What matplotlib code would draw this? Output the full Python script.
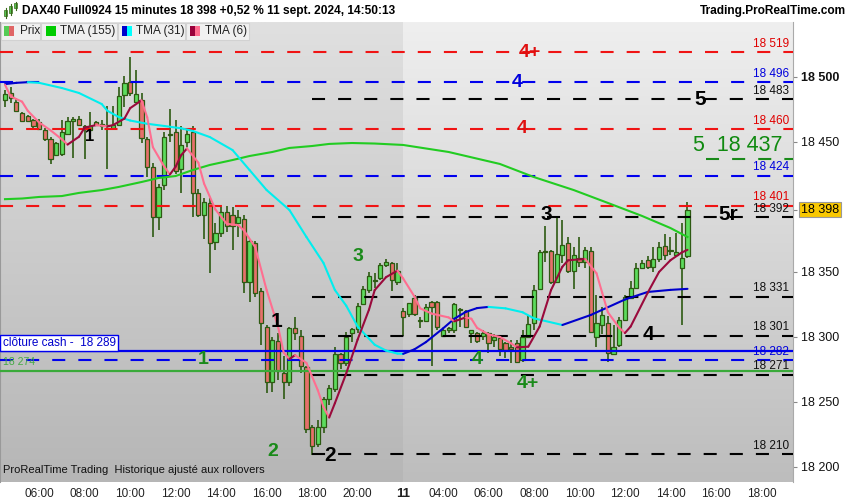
import numpy as np
import pandas as pd
import matplotlib
matplotlib.use('Agg')
import matplotlib.pyplot as plt
import matplotlib.transforms as mtransforms
from matplotlib.collections import LineCollection
from matplotlib.colors import LinearSegmentedColormap
from matplotlib.patches import Rectangle

plt.rcParams['font.family'] = ['Liberation Sans', 'DejaVu Sans']
plt.rcParams['lines.scale_dashes'] = False

# Bougies 15 minutes : 10 sept. 04:30 -> 21:45 puis 11 sept. 02:15 -> 14:45
heures_j1 = pd.date_range('2024-09-10 04:30', '2024-09-10 21:45', freq='15min')
heures_j2 = pd.date_range('2024-09-11 02:15', '2024-09-11 14:45', freq='15min')
heures = heures_j1.append(heures_j2)

ouv = [18482, 18488, 18481, 18472, 18470, 18467, 18465, 18459, 18452, 18440,
       18441, 18456, 18466, 18468, 18462, 18459, 18465, 18462, 18463, 18461,
       18463, 18486, 18496, 18481, 18482, 18452, 18431, 18392, 18417, 18456,
       18458, 18429, 18450, 18458, 18411, 18394, 18403, 18373, 18380, 18396,
       18394, 18388, 18391, 18342, 18372, 18335, 18308, 18265, 18297, 18272,
       18265, 18307, 18301, 18277, 18231, 18218, 18231, 18252, 18260, 18287,
       18280, 18303, 18306, 18325, 18336, 18343, 18345, 18355, 18357, 18342,
       18320, 18318, 18330, 18312, 18312, 18327, 18327, 18301, 18305, 18305,
       18321, 18320, 18303, 18303, 18301, 18303, 18298, 18299, 18295, 18292,
       18295, 18282, 18300, 18311, 18337, 18366, 18366, 18342, 18363, 18372,
       18351, 18361, 18358, 18366, 18300, 18309, 18311, 18287, 18294, 18313,
       18330, 18338, 18353, 18359, 18354, 18360, 18370, 18366, 18363, 18353,
       18362]
haut = [18490, 18492, 18484, 18473, 18471, 18468, 18468, 18461, 18454, 18450,
        18467, 18469, 18469, 18470, 18463, 18473, 18466, 18467, 18478, 18478,
        18492, 18501, 18515, 18505, 18488, 18454, 18434, 18418, 18458, 18475,
        18467, 18462, 18461, 18462, 18414, 18407, 18407, 18388, 18400, 18401,
        18400, 18398, 18394, 18375, 18374, 18338, 18309, 18300, 18303, 18285,
        18308, 18315, 18305, 18278, 18232, 18236, 18254, 18263, 18292, 18288,
        18304, 18307, 18326, 18339, 18350, 18349, 18357, 18360, 18358, 18357,
        18322, 18326, 18332, 18315, 18325, 18328, 18328, 18307, 18308, 18326,
        18322, 18321, 18305, 18304, 18305, 18304, 18302, 18300, 18296, 18298,
        18298, 18305, 18317, 18340, 18367, 18385, 18367, 18392, 18390, 18377,
        18369, 18377, 18369, 18369, 18332, 18323, 18316, 18309, 18315, 18332,
        18343, 18357, 18359, 18362, 18369, 18373, 18379, 18377, 18380, 18388,
        18404]
bas = [18477, 18480, 18473, 18465, 18465, 18461, 18459, 18451, 18433, 18439,
       18439, 18455, 18438, 18462, 18437, 18451, 18462, 18459, 18429, 18459,
       18462, 18477, 18485, 18480, 18449, 18423, 18377, 18382, 18413, 18450,
       18425, 18411, 18446, 18392, 18392, 18375, 18349, 18367, 18377, 18381,
       18367, 18377, 18334, 18327, 18331, 18294, 18257, 18258, 18267, 18252,
       18262, 18298, 18272, 18226, 18209, 18215, 18226, 18248, 18258, 18275,
       18278, 18296, 18303, 18325, 18334, 18338, 18344, 18354, 18335, 18340,
       18301, 18315, 18316, 18307, 18312, 18278, 18305, 18300, 18303, 18303,
       18308, 18307, 18295, 18295, 18298, 18288, 18292, 18285, 18284, 18280,
       18280, 18281, 18299, 18305, 18336, 18358, 18341, 18342, 18357, 18349,
       18337, 18354, 18353, 18303, 18292, 18302, 18281, 18286, 18292, 18312,
       18329, 18337, 18352, 18352, 18350, 18358, 18359, 18363, 18362, 18309,
       18361]
clot = [18487, 18484, 18474, 18466, 18466, 18462, 18460, 18452, 18437, 18449,
        18458, 18466, 18468, 18463, 18460, 18462, 18463, 18464, 18462, 18463,
        18485, 18495, 18488, 18487, 18453, 18431, 18392, 18415, 18454, 18455,
        18428, 18448, 18456, 18411, 18394, 18404, 18372, 18380, 18396, 18385,
        18385, 18392, 18342, 18374, 18334, 18311, 18265, 18298, 18274, 18265,
        18307, 18303, 18278, 18229, 18216, 18231, 18252, 18261, 18287, 18280,
        18300, 18306, 18324, 18337, 18347, 18343, 18355, 18358, 18344, 18351,
        18315, 18326, 18318, 18313, 18323, 18323, 18308, 18305, 18307, 18325,
        18321, 18308, 18305, 18297, 18303, 18295, 18300, 18291, 18290, 18291,
        18281, 18300, 18310, 18336, 18365, 18365, 18342, 18364, 18371, 18351,
        18363, 18358, 18367, 18304, 18311, 18317, 18288, 18292, 18313, 18331,
        18338, 18353, 18357, 18354, 18360, 18369, 18363, 18366, 18365, 18361,
        18398]

# Moyennes triangulaires (indice de bougie, valeur)
tma155_idx = [0, 3, 6, 10, 13, 17, 20, 24, 27, 30, 33, 36, 40, 43, 47, 50, 54, 57,
              61, 65, 70, 78, 87, 93, 100, 106, 112, 117, 120]
tma155_val = [18406, 18406.5, 18407.7, 18408.4, 18410.8, 18413, 18415.4, 18419.2,
              18422.3, 18423.8, 18428.4, 18432.3, 18436.1, 18439.2, 18442.3, 18445.4,
              18446.9, 18448.5, 18449.2, 18448.8, 18447.7, 18442.3, 18433.1, 18423,
              18413, 18403.1, 18393.1, 18383.8, 18376.9]

tma31_idx = [0, 2, 4, 6, 10, 13, 17, 18, 20, 22, 25, 28, 31, 33, 36, 40, 43, 46,
             50, 53, 56, 58, 60, 62, 65, 67, 69, 70, 72, 74, 77, 79, 81, 83, 85,
             88, 91, 93, 98, 103, 109, 113, 117, 120]
tma31_val = [18494.5, 18495.5, 18496, 18495.5, 18491.5, 18487.7, 18479.2, 18474,
             18469.2, 18466.5, 18464, 18462.3, 18460.5, 18458.5, 18453.8, 18443.8,
             18428.4, 18413, 18397.7, 18376.9, 18356.9, 18336.1, 18324, 18308,
             18294, 18289.5, 18287.2, 18287, 18290.5, 18296, 18306.5, 18314,
             18319.2, 18322.2, 18323.1, 18322, 18319, 18314.3, 18309.2, 18316.9,
             18328.8, 18334.6, 18336.2, 18337]

tma6_idx = [0, 1, 3, 4, 6, 8, 10, 11, 13, 14, 16, 18, 19, 21, 22, 24, 25, 26, 28,
            29, 30, 31, 32, 34, 35, 37, 39, 41, 42, 44, 46, 48, 49, 50, 51, 53, 55,
            56, 57, 58, 60, 62, 64, 65, 67, 69, 70, 72, 73, 75, 78, 79, 81, 82, 83,
            85, 87, 89, 90, 92, 94, 96, 98, 99, 102, 104, 105, 106, 108, 109, 110,
            113, 115, 117, 119, 120]
tma6_val = [18494, 18485, 18481, 18474, 18465, 18459, 18452, 18448, 18454, 18461,
            18463, 18462, 18463, 18468, 18476, 18482, 18469, 18446, 18431, 18425,
            18431, 18440, 18445, 18434, 18418, 18398, 18387, 18386, 18382, 18369,
            18336, 18308, 18288, 18283, 18286, 18280, 18259, 18246, 18238, 18249,
            18272, 18298, 18321, 18336, 18346, 18351, 18345, 18331, 18322, 18318,
            18315, 18312, 18315, 18314, 18307, 18302, 18300, 18295, 18292, 18292.5,
            18308, 18336, 18354, 18359, 18360, 18349, 18334, 18319, 18307, 18303,
            18308, 18334, 18350, 18359, 18365, 18367]

# Niveaux horizontaux
niveaux_rouges = [18519, 18460, 18401]
niveaux_bleus = [18496, 18424, 18282]
niveaux_noirs = [18483, 18392, 18331, 18301, 18271, 18210]
niveau_vert = 18437
cloture_cash = 18289
niveau_vert_plein = 18274
dernier = 18398

# Repères écrits sur le graphique : (texte, indice, prix, couleur, taille)
reperes = [
    ('4+', 92.3, 18519, '#e01010', 14),
    ('4', 90.0, 18496, '#0000dd', 14),
    ('4', 90.9, 18460, '#e01010', 14),
    ('5', 122.2, 18483, 'black', 15),
    ('5r', 127.1, 18394, 'black', 15),
    ('3', 95.1, 18394, 'black', 15),
    ('4', 113.1, 18301.5, 'black', 15),
    ('1', 14.9, 18454, 'black', 12),
    ('1', 47.8, 18312, 'black', 15),
    ('2', 57.1, 18209, 'black', 15),
    ('1', 34.8, 18283, '#1a8a1a', 14),
    ('2', 47.1, 18212, '#1a8a1a', 14),
    ('3', 62.1, 18362, '#1a8a1a', 14),
    ('4', 83.0, 18283, '#1a8a1a', 14),
    ('4+', 92.0, 18264, '#1a8a1a', 14),
]

ticks_j1 = ['06:00', '08:00', '10:00', '12:00', '14:00', '16:00', '18:00', '20:00']
ticks_j2 = ['04:00', '06:00', '08:00', '10:00', '12:00', '14:00', '16:00', '18:00']


def position(t):
    # indice de bougie pour une heure (au-delà de la dernière bougie : extrapolé)
    t = pd.Timestamp(t)
    if t in heures:
        return heures.get_loc(t)
    return len(heures) - 1 + (t - heures[-1]) / pd.Timedelta('15min')


def ligne_bicolore(ax, xs, ys, c_hausse, c_baisse, lw):
    pts = np.column_stack([xs, ys])
    segs = np.stack([pts[:-1], pts[1:]], axis=1)
    cols = [c_hausse if b >= a else c_baisse for a, b in zip(ys[:-1], ys[1:])]
    ax.add_collection(LineCollection(segs, colors=cols, linewidths=lw,
                                     capstyle='round', joinstyle='round', zorder=5))


fig = plt.figure(figsize=(8.5, 5), dpi=100)
fig.patch.set_facecolor('white')
ax = fig.add_axes([0, 18 / 500, 793 / 850, 460 / 500])

x = np.arange(len(heures))
xmin, xmax = -0.88, 138.55
ymin, ymax = 18188.4, 18542.3
limite = len(heures_j1) - 0.05

# Fond dégradé (jour précédent plus sombre)
grad = np.linspace(0, 1, 256).reshape(-1, 1)
fond_j1 = LinearSegmentedColormap.from_list('j1', ['#e0e0e0', '#b6b6b6'])
fond_j2 = LinearSegmentedColormap.from_list('j2', ['#efefef', '#bdbdbd'])
ax.imshow(grad, cmap=fond_j1, aspect='auto', extent=(xmin, limite, ymin, ymax),
          origin='upper', zorder=0)
ax.imshow(grad, cmap=fond_j2, aspect='auto', extent=(limite, xmax, ymin, ymax),
          origin='upper', zorder=0)

# Bougies
ouv_a, clot_a = np.array(ouv), np.array(clot)
hausse = clot_a >= ouv_a
corps_bas = np.minimum(ouv_a, clot_a)
corps_h = np.maximum(np.abs(clot_a - ouv_a), 0.6)
bord = '#2d5a12'
ax.vlines(x, bas, haut, color=bord, linewidth=1.2, zorder=2)
ax.bar(x, corps_h, bottom=corps_bas, width=0.74,
       color=np.where(hausse, '#5ddc5d', '#e6706b'), edgecolor=bord,
       linewidth=0.9, zorder=3)

# Niveaux
tirets = (0, (9.4, 9.4))
for n in niveaux_rouges:
    ax.plot([xmin, xmax], [n, n], color='#f01414', lw=1.5, ls=tirets, zorder=4)
for n in niveaux_bleus:
    ax.plot([xmin, xmax], [n, n], color='#0000ee', lw=1.5, ls=tirets, zorder=4)
debut_noirs = position('2024-09-10 18:00')
for n in niveaux_noirs:
    ax.plot([debut_noirs, xmax], [n, n], color='black', lw=1.5, ls=tirets, zorder=4)
ax.plot([123.25, xmax], [niveau_vert] * 2, color='#1a8a1a', lw=1.5, ls=tirets, zorder=4)
ax.axhline(cloture_cash, color='#0000ee', lw=1.6, zorder=4)
ax.axhline(niveau_vert_plein, color='#3aaa3a', lw=1.6, zorder=4)

# Moyennes mobiles
ax.plot(tma155_idx, tma155_val, color='#22cc22', lw=1.5, zorder=5)
ligne_bicolore(ax, tma31_idx, tma31_val, '#0000cc', '#00eeee', 1.5)
ligne_bicolore(ax, tma6_idx, tma6_val, '#9a0a3c', '#ff6e90', 1.5)

# Étiquettes de niveaux à droite
trans = mtransforms.blended_transform_factory(ax.transAxes, ax.transData)
etiquettes = ([(n, '#e00000') for n in niveaux_rouges] + [(n, '#0000dd') for n in niveaux_bleus]
              + [(n, '#111111') for n in niveaux_noirs])
for n, c in etiquettes:
    ax.annotate(f'{n:,}'.replace(',', ' '), xy=(1, n), xycoords=trans, xytext=(-3, 6),
                textcoords='offset points', ha='right', va='center', fontsize=8.5,
                color=c, zorder=6)

ax.annotate('5  18 437', xy=(128.9, 18447), ha='center', va='center', fontsize=15.5,
            color='#108a10', zorder=6)
for txt, xi, yi, c, t in reperes:
    ax.text(xi, yi, txt, ha='center', va='center', fontsize=t, fontweight='bold',
            color=c, zorder=6)

ax.annotate('clôture cash -  18 289', xy=(0, cloture_cash), xycoords=trans, xytext=(2, 6),
            textcoords='offset points', ha='left', va='center', fontsize=8.5, color='#0000cc',
            bbox=dict(boxstyle='square,pad=0.2', fc='white', ec='#0000ee', lw=1), zorder=7)
ax.annotate('18 274', xy=(0, niveau_vert_plein), xycoords=trans, xytext=(2, 6.5),
            textcoords='offset points', ha='left', va='center', fontsize=7.5, color='#44aa44',
            zorder=6)
ax.text(0.004, 0.02, 'ProRealTime Trading  Historique ajusté aux rollovers',
        transform=ax.transAxes, fontsize=8, color='#111111', zorder=6)

# Axes
ax.set_xlim(xmin, xmax)
ax.set_ylim(ymin, ymax)
pos_x = [position('2024-09-10 ' + h) for h in ticks_j1] + [len(heures_j1)] + \
        [position('2024-09-11 ' + h) for h in ticks_j2]
lab_x = ticks_j1 + ['11'] + ticks_j2
ax.set_xticks(pos_x)
ax.set_xticklabels(lab_x, fontsize=8.5, color='#222222')
ax.get_xticklabels()[len(ticks_j1)].set_fontweight('bold')
ax.get_xticklabels()[len(ticks_j1)].set_fontsize(9.5)
ax.tick_params(axis='x', length=0, pad=4)

ax.yaxis.tick_right()
yt = [18200, 18250, 18300, 18350, 18450, 18500]
ax.set_yticks(yt + [dernier])
ax.set_yticklabels([f'{v:,}'.replace(',', ' ') for v in yt] + [''], fontsize=9, color='#111111')
ax.get_yticklabels()[5].set_fontweight('bold')
ax.tick_params(axis='y', length=3, color='#888888', pad=3)
ax.annotate('18 398', xy=(1, dernier), xycoords=trans, xytext=(5.5, 0),
            textcoords='offset points', ha='left', va='center', fontsize=9,
            bbox=dict(boxstyle='square,pad=0.15', fc='#f9c800', ec='#999999', lw=0.8),
            annotation_clip=False, zorder=8)
for s in ['top', 'bottom']:
    ax.spines[s].set_visible(False)
ax.spines['left'].set_color('#999999')
ax.spines['right'].set_color('#aaaaaa')

# En-tête et légende (coordonnées en pixels)
hd = fig.add_axes([0, 0, 1, 1], zorder=10)
hd.set_xlim(0, 850)
hd.set_ylim(500, 0)
hd.axis('off')
hd.patch.set_alpha(0)
for x0, w in [(0, 41), (41, 77), (118, 68), (186, 64)]:
    hd.add_patch(Rectangle((x0 + 0.5, 22.5), w - 1, 17, fc='#f0f0f0', ec='#d2d2d2', lw=0.8))
boites = [(4, '#55cc55', '#e06666'), (46, '#00cc00', '#00cc00'),
          (122, '#0000cc', '#00ffff'), (190, '#99003a', '#ff6b8e')]
for bx, c1, c2 in boites:
    hd.add_patch(Rectangle((bx, 26), 5, 10, fc=c1, ec='none'))
    hd.add_patch(Rectangle((bx + 5, 26), 5, 10, fc=c2, ec='none'))
for tx, lab in [(20, 'Prix'), (60, 'TMA (155)'), (136, 'TMA (31)'), (205, 'TMA (6)')]:
    hd.text(tx, 31, lab, fontsize=8.5, va='center', color='#222222')
# petite icône bougies
for bx, b0, b1, w0, w1 in [(6, 10, 16, 8, 18), (11, 6, 13, 4, 15), (16, 3, 8, 2, 10)]:
    hd.plot([bx, bx], [w0, w1], color='#3a6a1a', lw=0.8)
    hd.add_patch(Rectangle((bx - 1.5, b0), 3, b1 - b0, fc='#55cc55', ec='#3a6a1a', lw=0.5))
hd.text(22, 11, 'DAX40 Full0924 15 minutes 18 398 +0,52 % 11 sept. 2024, 14:50:13',
        fontsize=8.6, fontweight='bold', va='center', color='black')
hd.text(846, 11, 'Trading.ProRealTime.com', fontsize=8.6, fontweight='bold', va='center',
        ha='right', color='black')

fig.savefig('out.png', dpi=100)
